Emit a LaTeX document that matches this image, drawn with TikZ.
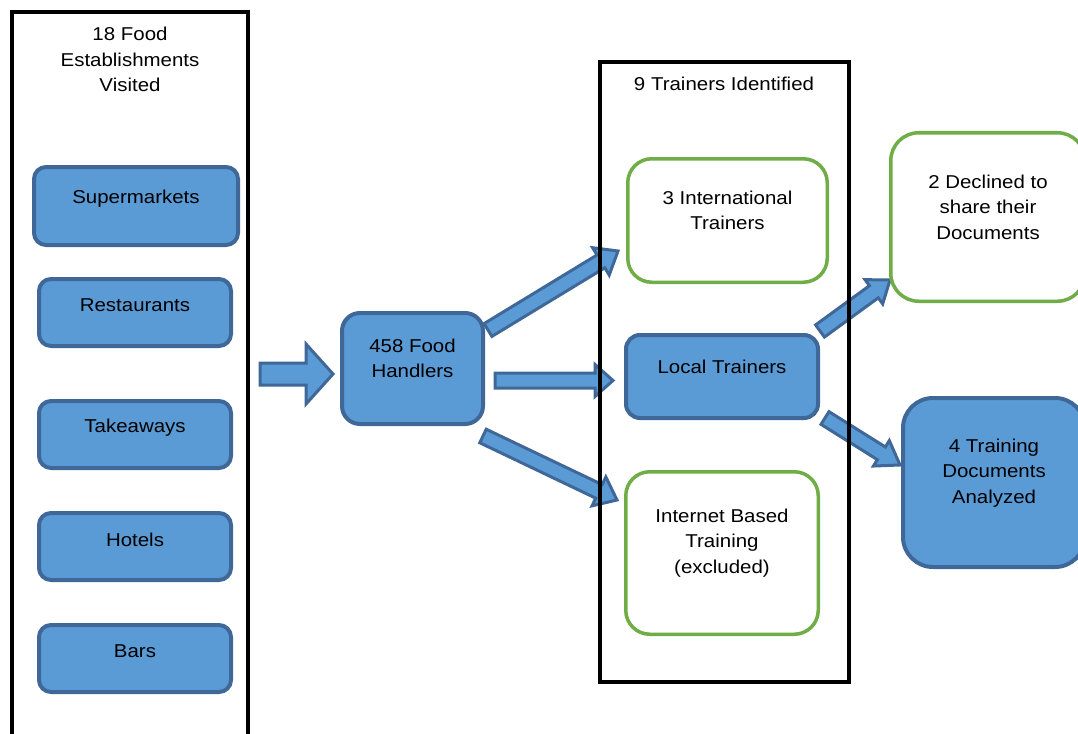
\documentclass[tikz,border=0pt]{standalone}
\usepackage{fontspec}
\setmainfont{Liberation Sans}[FakeStretch=1.1]
\usetikzlibrary{calc}
\definecolor{bfill}{HTML}{5B9BD5}
\definecolor{bline}{HTML}{3F6899}
\definecolor{gline}{HTML}{70AD47}
\tikzset{
  txt/.style={font=\fontsize{18.6}{25.5}\selectfont, align=center, inner sep=0pt, text=black},
  bluebox/.style={draw=bline, fill=bfill, line width=4pt, rounded corners=#1, inner sep=0pt},
  bluebox/.default=12pt,
  greenbox/.style={draw=gline, fill=white, line width=3.5pt, rounded corners=#1, inner sep=0pt},
  greenbox/.default=24pt,
  frame/.style={draw=black, line width=4pt, inner sep=0pt},
  barrow/.style={draw=bline, fill=bfill, line width=3pt, line join=miter},
  boxtext/.style 2 args={label={[txt, yshift=#1]center:{#2}}}
}
% #1 name, #2 start, #3 end, #4 shaft half width, #5 head half width, #6 head length
\newcommand{\blockarr}[6]{%
  \coordinate (#1h) at ($(#3)!#6!(#2)$);
  \draw[barrow] ($(#2)!#4!90:(#3)$) -- ($(#1h)!#4!90:(#3)$) -- ($(#1h)!#5!90:(#3)$)
    -- (#3) -- ($(#1h)!#5!-90:(#3)$) -- ($(#1h)!#4!-90:(#3)$) -- ($(#2)!#4!-90:(#3)$) -- cycle;
}
\begin{document}
\begin{tikzpicture}[x=1pt, y=-1pt]
\useasboundingbox (0,0) rectangle (1078,733);
\clip (0,0) rectangle (1078,733);
\fill[white] (0,0) rectangle (1078,733);

% block arrows
\coordinate (a0s) at (260,374);   \coordinate (a0e) at (333,374);
\coordinate (a1s) at (488,330);   \coordinate (a1e) at (618,251);
\coordinate (a2s) at (495,380.5); \coordinate (a2e) at (613,380.5);
\coordinate (a3s) at (483,436);   \coordinate (a3e) at (617,500);
\coordinate (a4s) at (820,331);   \coordinate (a4e) at (890,280);
\coordinate (a5s) at (825,418);   \coordinate (a5e) at (900,465);
\blockarr{a0}{a0s}{a0e}{11pt}{30pt}{27pt}
\blockarr{a1}{a1s}{a1e}{7.5pt}{16pt}{20pt}
\blockarr{a2}{a2s}{a2e}{7.5pt}{16pt}{18pt}
\blockarr{a3}{a3s}{a3e}{7.5pt}{16pt}{20pt}
\blockarr{a4}{a4s}{a4e}{7.5pt}{15pt}{20pt}
\blockarr{a5}{a5s}{a5e}{7.5pt}{15pt}{22pt}

% containers
\node[frame, minimum width=236pt, minimum height=740pt] (estab) at (130,382) {};
\node[frame, minimum width=249pt, minimum height=620pt] (trn) at (724.5,372) {};
\node[txt] (hdr1) at (130,59.5) {18 Food\\Establishments\\Visited};
\node[txt] (hdr2) at (724,84) {9 Trainers Identified};

% establishments
\node[bluebox, minimum width=204pt, minimum height=78pt, boxtext={7pt}{Supermarkets}] (sup) at (136,206) {};
\node[bluebox, minimum width=192pt, minimum height=67pt, boxtext={7pt}{Restaurants}] (rest) at (135,312.5) {};
\node[bluebox, minimum width=192pt, minimum height=67pt, boxtext={7pt}{Takeaways}] (take) at (135,434.5) {};
\node[bluebox, minimum width=192pt, minimum height=67pt, boxtext={7pt}{Hotels}] (hot) at (135,546.5) {};
\node[bluebox, minimum width=192pt, minimum height=67pt, boxtext={7pt}{Bars}] (bars) at (135,658.5) {};

% food handlers
\node[bluebox=18pt, minimum width=141pt, minimum height=111pt, boxtext={10pt}{458 Food\\Handlers}] (fh) at (412.5,368.5) {};

% trainers
\node[greenbox, minimum width=199.5pt, minimum height=123.5pt, boxtext={10pt}{3 International\\Trainers}] (intl) at (727.5,220.5) {};
\node[bluebox=14pt, minimum width=192pt, minimum height=83pt, boxtext={10pt}{Local Trainers}] (loc) at (722,376.5) {};
\node[greenbox, minimum width=192.5pt, minimum height=162.5pt, boxtext={10pt}{Internet Based\\Training\\(excluded)}] (inet) at (722,553) {};

% outcomes
\node[greenbox=28pt, minimum width=194.5pt, minimum height=168.5pt, boxtext={10pt}{2 Declined to\\share their\\Documents}] (decl) at (988,217) {};
\node[bluebox=30pt, minimum width=182pt, minimum height=169pt, boxtext={9.5pt}{4 Training\\Documents\\Analyzed}] (four) at (994,482.5) {};
\end{tikzpicture}
\end{document}
